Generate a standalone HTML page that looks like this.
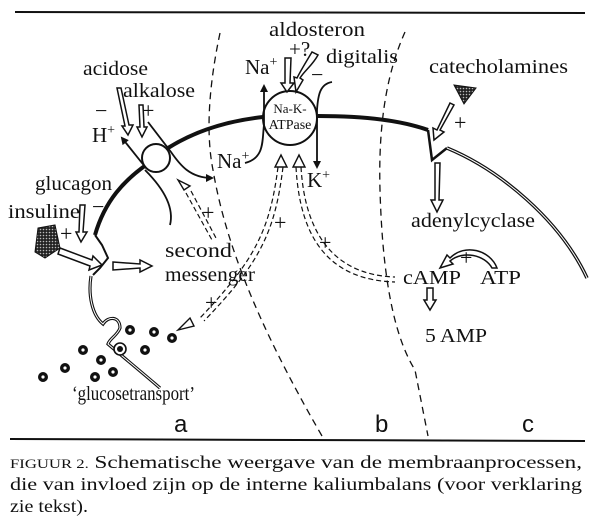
<!DOCTYPE html>
<html><head><meta charset="utf-8"><style>
html,body{margin:0;padding:0;background:#fff;}
svg{display:block;}
text{font-family:"Liberation Serif","Times New Roman",serif;fill:#111;}
.s{font-family:"Liberation Sans",sans-serif;}
</style></head><body>
<svg width="600" height="529" viewBox="0 0 600 529" xmlns="http://www.w3.org/2000/svg">
<defs>
<marker id="ah" markerWidth="8" markerHeight="8" refX="6" refY="4" orient="auto" markerUnits="userSpaceOnUse"><path d="M0,0 L8,4 L0,8 z" fill="#111"/></marker>
<pattern id="dots" width="3" height="3" patternUnits="userSpaceOnUse"><rect width="3" height="3" fill="#222"/><circle cx="1.5" cy="1.5" r="0.8" fill="#bbb"/></pattern>
</defs>
<line x1="15" y1="12" x2="585" y2="13" stroke="#111" stroke-width="2"/>
<line x1="10" y1="439" x2="585" y2="441" stroke="#111" stroke-width="2"/>

<path d="M220,33 C210,80 205,130 213,170 C225,240 255,320 322,436" fill="none" stroke="#111" stroke-width="1.3" stroke-dasharray="7,5"/>
<path d="M405,32 C388,70 378,120 380,190 C382,260 390,330 415,370 L428,436" fill="none" stroke="#111" stroke-width="1.3" stroke-dasharray="7,5"/>

<path d="M95,235 C105,200 125,180 146,165" fill="none" stroke="#111" stroke-width="4"/>
<path d="M168,148 C200,128 235,120 263,117" fill="none" stroke="#111" stroke-width="4"/>
<path d="M318,116 C360,116 400,120 428,130" fill="none" stroke="#111" stroke-width="4"/>
<path d="M428,130 L432,160 L447,148" fill="none" stroke="#111" stroke-width="2.5"/>
<path d="M447,148 C500,170 560,220 587,278" fill="none" stroke="#111" stroke-width="3.5"/>
<path d="M447,148 C500,170 560,220 587,278" fill="none" stroke="#fff" stroke-width="1"/>
<path d="M95,235 L102,245 L108,258 L100,268 L93,275" fill="none" stroke="#111" stroke-width="2"/>
<path d="M91,276 C88,295 92,315 103,324 C108,316 120,316 120,328 C117,336 110,338 108,344 C122,356 145,375 160,388" fill="none" stroke="#111" stroke-width="3.2"/>
<path d="M91,276 C88,295 92,315 103,324 C108,316 120,316 120,328 C117,336 110,338 108,344 C122,356 145,375 160,388" fill="none" stroke="#fff" stroke-width="1"/>
<circle cx="120" cy="349" r="6" fill="#fff" stroke="#111" stroke-width="1.6"/>
<circle cx="120" cy="349" r="3" fill="#111"/>

<circle cx="156" cy="158" r="14" fill="#fff" stroke="#111" stroke-width="2"/>
<path d="M148,122 L171,152 C180,165 190,178 212,178" fill="none" stroke="#111" stroke-width="1.8" marker-end="url(#ah)"/>
<path d="M145,170 C160,185 175,205 170,225" fill="none" stroke="#111" stroke-width="1.8"/>
<path d="M146,168 L122,138" fill="none" stroke="#111" stroke-width="1.8" marker-end="url(#ah)"/>
<circle cx="290" cy="118" r="27" fill="#fff" stroke="#111" stroke-width="2"/>
<text x="290" y="113" font-size="13" text-anchor="middle">Na-K-</text>
<text x="290" y="129" font-size="14" text-anchor="middle">ATPase</text>
<path d="M245,163 C265,158 262,140 264,125 L264,86" fill="none" stroke="#111" stroke-width="1.8" marker-end="url(#ah)"/>
<path d="M332,82 C320,84 318,95 317,110 L317,167" fill="none" stroke="#111" stroke-width="1.8" marker-end="url(#ah)"/>

<g fill="#fff" stroke="#111" stroke-width="1.5">
<path d="M117,88 L121,88 L129,125 L133,125 L128,135 L122,126 L125,126 Z"/>
<path d="M139,105 L143,105 L144,127 L147,127 L142,137 L137,127 L140,127 Z"/>
<path d="M285,58 L291,58 L290,83 L294,83 L287,92 L281,83 L285,83 Z"/>
<path d="M318,55 C312,66 305,70 300,78 L303,80 L296,92 L294,77 L297,78 C301,70 306,62 312,52 Z"/>
<path d="M80,205 L85,205 L83,232 L87,232 L81,242 L76,232 L79,232 Z"/>
<path d="M60,248 L92,260 L93,256 L102,265 L89,270 L90,266 L58,254 Z"/>
<path d="M113,262 L140,264 L140,260 L152,266 L140,272 L140,268 L113,270 Z"/>
<path d="M450,103 L454,105 L440,130 L444,132 L434,140 L433,128 L437,130 Z"/>
<path d="M435,163 L440,163 L439,200 L443,200 L437,212 L431,200 L435,200 Z"/>
<path d="M427,288 L433,288 L433,300 L436,300 L430,310 L424,300 L427,300 Z"/>
<path d="M497,268 C490,250 465,243 450,258 L447,255 L440,268 L453,264 L450,261 C463,250 485,255 492,268 Z"/>
</g>
<g fill="none" stroke="#111" stroke-width="1.2" stroke-dasharray="5,3">
<path d="M186,193 L212,240"/><path d="M191,191 L216,238"/>
<path d="M278,167 C270,230 255,260 200,318"/><path d="M283,167 C275,232 260,263 204,321"/>
<path d="M296,167 C300,240 330,280 395,282"/><path d="M301,167 C305,235 335,275 395,277"/>
</g>
<g fill="#fff" stroke="#111" stroke-width="1.4">
<path d="M178,180 L190,186 L184,190 Z"/>
<path d="M281,155 L287,167 L275,167 Z"/>
<path d="M299,155 L305,167 L293,167 Z"/>
<path d="M178,330 L190,318 L194,326 Z"/>
</g>

<path d="M38,228 L55,225 L60,248 L45,258 L35,252 Z" fill="url(#dots)" stroke="#111" stroke-width="1"/>
<path d="M454,85 L476,88 L464,104 Z" fill="url(#dots)" stroke="#111" stroke-width="1"/>

<g fill="#111">
<circle cx="130" cy="330" r="5"/><circle cx="154" cy="332" r="5"/><circle cx="172" cy="338" r="5"/>
<circle cx="83" cy="350" r="5"/><circle cx="101" cy="360" r="5"/><circle cx="145" cy="350" r="5"/>
<circle cx="65" cy="368" r="5"/><circle cx="95" cy="377" r="5"/><circle cx="113" cy="372" r="5"/>
<circle cx="43" cy="377" r="5"/>
</g>
<g fill="#fff"><circle cx="130" cy="330" r="1.6"/><circle cx="154" cy="332" r="1.6"/><circle cx="172" cy="338" r="1.6"/><circle cx="83" cy="350" r="1.6"/><circle cx="101" cy="360" r="1.6"/><circle cx="145" cy="350" r="1.6"/><circle cx="65" cy="368" r="1.6"/><circle cx="95" cy="377" r="1.6"/><circle cx="113" cy="372" r="1.6"/><circle cx="43" cy="377" r="1.6"/></g>

<g font-size="20">
<text x="83" y="75" textLength="65" lengthAdjust="spacingAndGlyphs">acidose</text>
<text x="123" y="97" textLength="72" lengthAdjust="spacingAndGlyphs">alkalose</text>
<text x="92" y="142" font-size="21">H<tspan font-size="14" dy="-8">+</tspan></text>
<text x="95" y="118" font-size="22">−</text><text x="142" y="118" font-size="22">+</text>
<text x="217" y="168" font-size="21">Na<tspan font-size="14" dy="-8">+</tspan></text>
<text x="35" y="190" textLength="77" lengthAdjust="spacingAndGlyphs">glucagon</text>
<text x="8" y="218" textLength="72" lengthAdjust="spacingAndGlyphs">insuline</text>
<g font-size="22">
<text x="92" y="214">−</text><text x="60" y="241">+</text>
<text x="202" y="220">+</text><text x="205" y="310">+</text>
<text x="274" y="230">+</text><text x="319" y="250">+</text>
<text x="454" y="130">+</text><text x="460" y="265">+</text>
<text x="311" y="82">−</text>
</g>
<text x="165" y="257" textLength="67" lengthAdjust="spacingAndGlyphs">second</text>
<text x="165" y="281" textLength="90" lengthAdjust="spacingAndGlyphs">messenger</text>
<text x="72" y="400" textLength="123" lengthAdjust="spacingAndGlyphs">‘glucosetransport’</text>
<text x="269" y="36" textLength="96" lengthAdjust="spacingAndGlyphs">aldosteron</text>
<text x="289" y="56" font-size="21">+?</text>
<text x="326" y="63" textLength="72" lengthAdjust="spacingAndGlyphs">digitalis</text>
<text x="245" y="74" font-size="21">Na<tspan font-size="14" dy="-8">+</tspan></text>
<text x="307" y="187" font-size="21">K<tspan font-size="14" dy="-8">+</tspan></text>
<text x="429" y="73" textLength="139" lengthAdjust="spacingAndGlyphs">catecholamines</text>
<text x="411" y="227" textLength="124" lengthAdjust="spacingAndGlyphs">adenylcyclase</text>
<text x="403" y="284" textLength="58" lengthAdjust="spacingAndGlyphs">cAMP</text>
<text x="480" y="284" textLength="41" lengthAdjust="spacingAndGlyphs">ATP</text>
<text x="425" y="342" textLength="62" lengthAdjust="spacingAndGlyphs">5 AMP</text>
</g>
<text class="s" x="174" y="432" font-size="24">a</text>
<text class="s" x="375" y="432" font-size="24">b</text>
<text class="s" x="522" y="432" font-size="24">c</text>
<g font-size="18">
<text x="10" y="468" textLength="572" lengthAdjust="spacingAndGlyphs"><tspan font-size="13">FIGUUR 2.</tspan> Schematische weergave van de membraanprocessen,</text>
<text x="10" y="490" textLength="572" lengthAdjust="spacingAndGlyphs">die van invloed zijn op de interne kaliumbalans (voor verklaring</text>
<text x="10" y="512" textLength="78" lengthAdjust="spacingAndGlyphs">zie tekst).</text>
</g>
</svg>
</body></html>
